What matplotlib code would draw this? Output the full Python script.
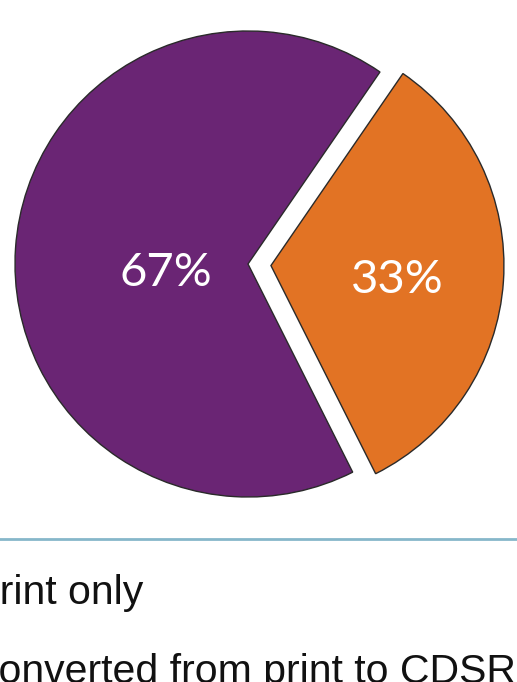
import numpy as np
import matplotlib
matplotlib.use("Agg")
import matplotlib.pyplot as plt
from matplotlib.lines import Line2D

# data
labels = ["print only", "converted from print to CDSR"]
shares = [67, 33]
colors = ["#6a2574", "#e27324"]
explode_px = [0, 23]
label_dist = [0.355, 0.545]
label_dy = [-15, -6]

W, H = 517, 682
fig = plt.figure(figsize=(W / 100, H / 100), dpi=100)
ax = fig.add_axes([0, 0, 1, 1])

cx, cy, R = 248, H - 264, 233
wedges, texts, autotexts = ax.pie(
    shares, colors=colors, explode=explode_px, startangle=55.5,
    center=(cx, cy), radius=R, autopct="%d%%", frame=True,
    wedgeprops=dict(edgecolor="#2a2a2a", linewidth=1.0),
    textprops=dict(color="white", fontsize=34, family="Lato"),
)
ax.set_xlim(0, W)
ax.set_ylim(0, H)
ax.set_aspect("equal")
ax.axis("off")

# move the percentage labels along each wedge's mid angle
for w, t, d, dy in zip(wedges, autotexts, label_dist, label_dy):
    mid = np.deg2rad((w.theta1 + w.theta2) / 2)
    x0, y0 = w.center
    t.set_position((x0 + d * R * np.cos(mid), y0 + d * R * np.sin(mid) + dy))

# separator line and legend text (cut at the left edge like the source)
fig.add_artist(Line2D([0, 1], [(H - 539) / H] * 2, color="#86b7ca", lw=2))
fig.text(-23 / W, (H - 604) / H, labels[0], fontsize=29.5,
         family="Liberation Sans", va="baseline", color="#111111")
fig.text(-22 / W, (H - 683) / H, labels[1], fontsize=29.5,
         family="Liberation Sans", va="baseline", color="#111111")

fig.savefig("out.png", dpi=100)
